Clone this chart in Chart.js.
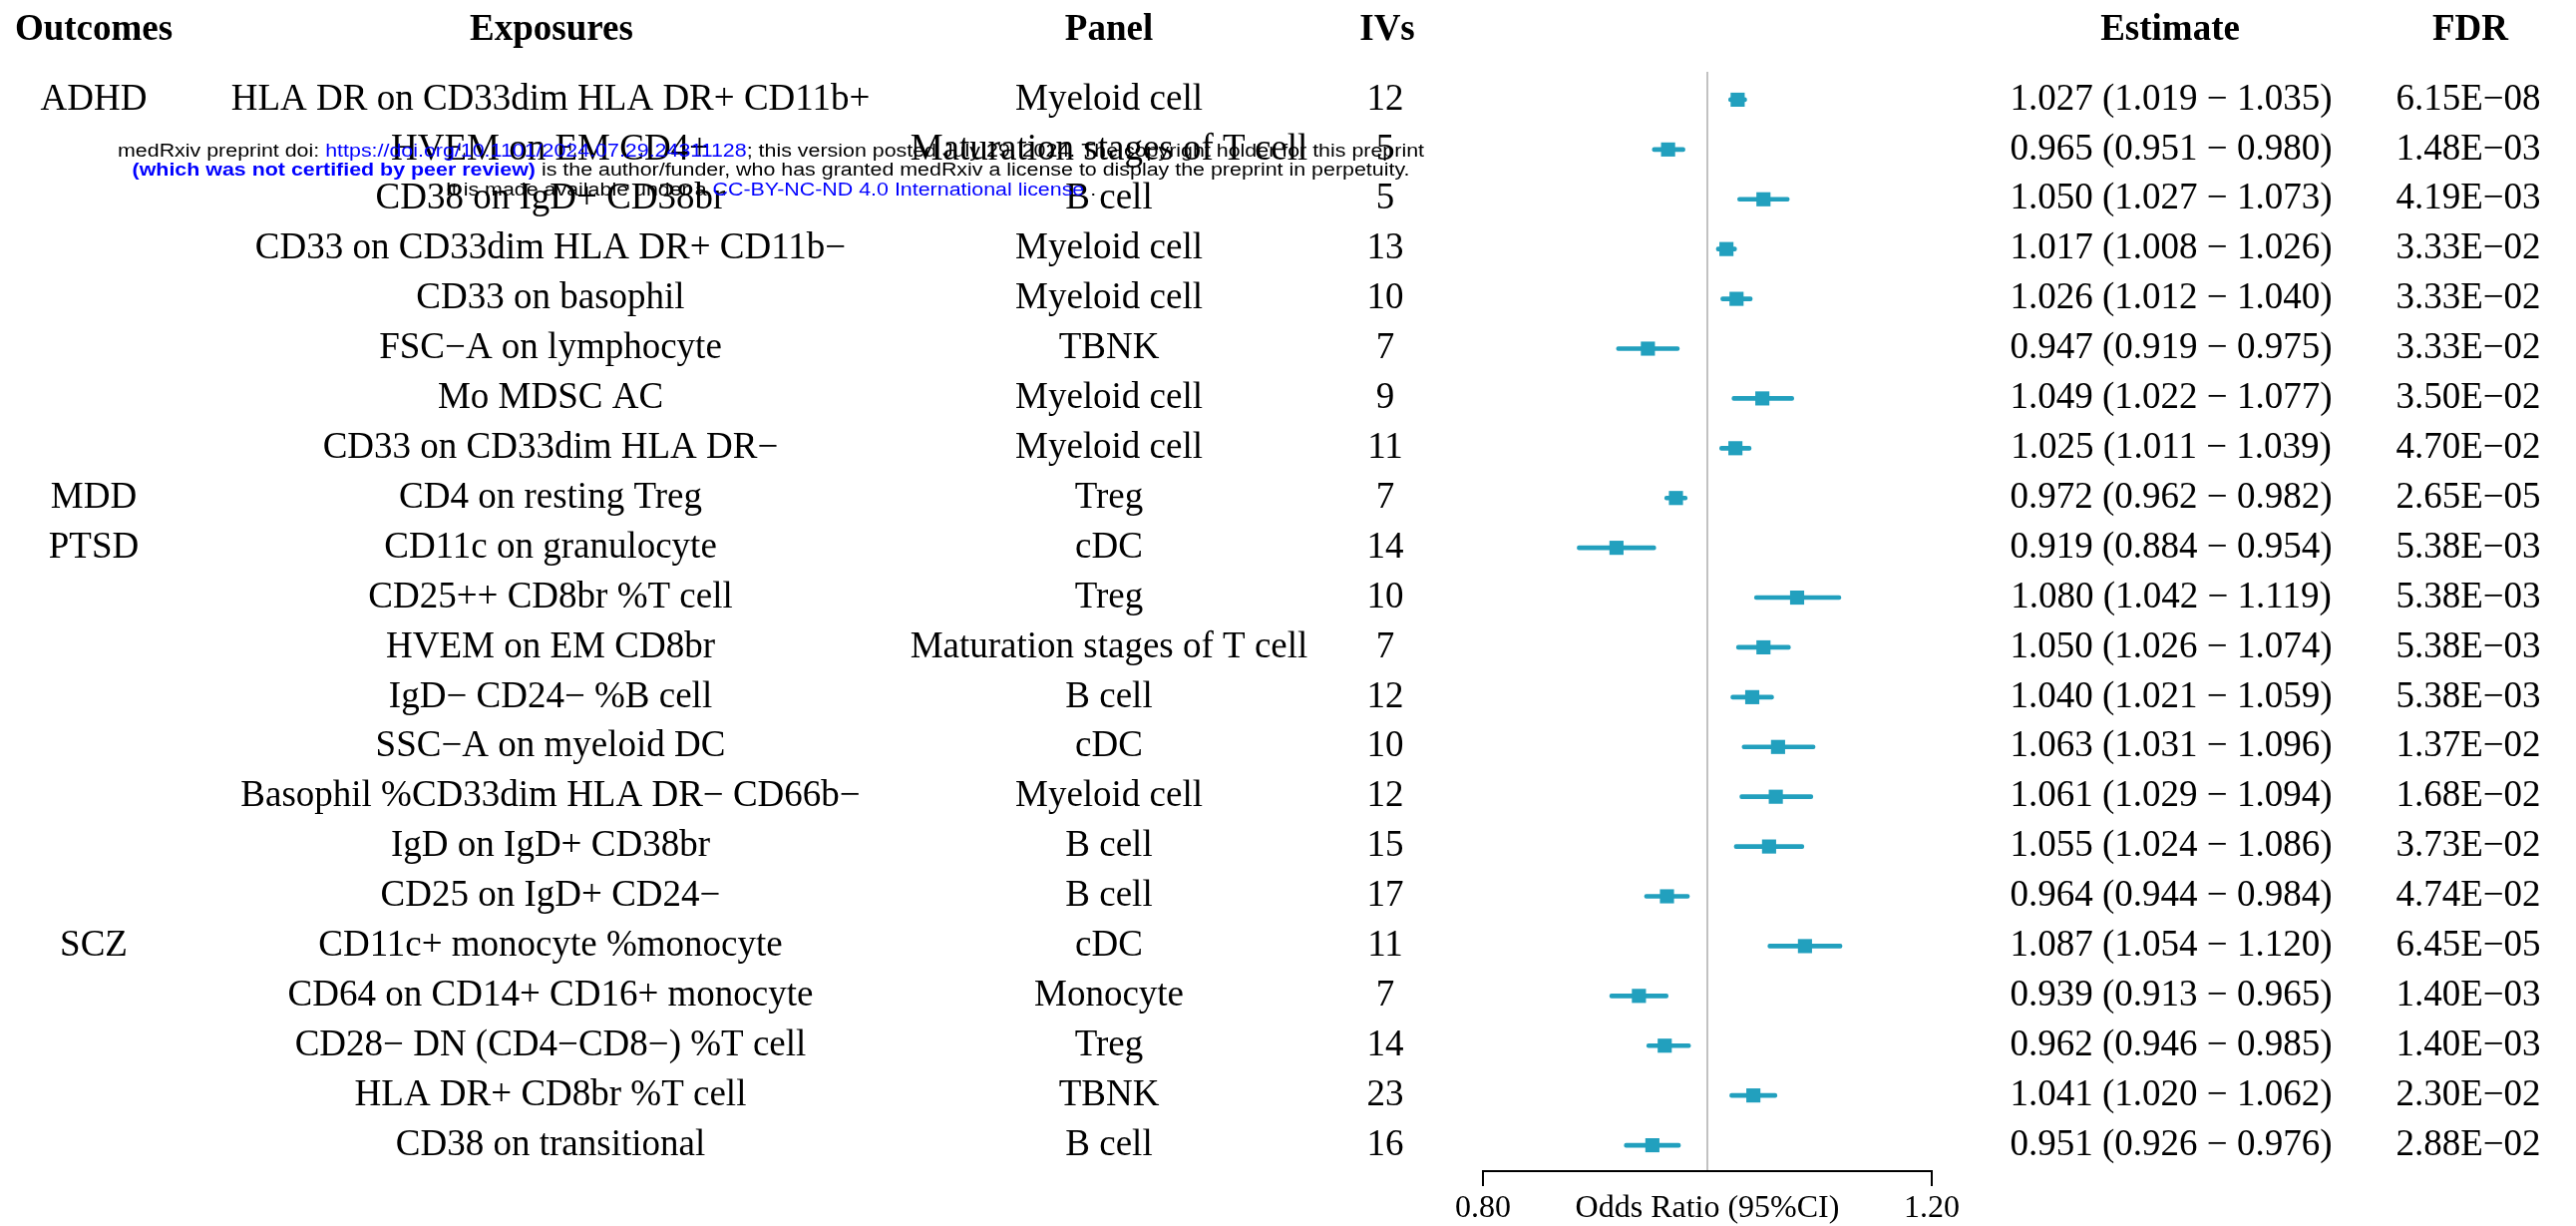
<!DOCTYPE html>
<html>
<head>
<meta charset="utf-8">
<title>Forest plot</title>
<script src="https://cdn.jsdelivr.net/npm/chart.js@4.4.0/dist/chart.umd.min.js"></script>
<style>
  html, body { margin: 0; padding: 0; background: #fff; }
  canvas { display: block; }
</style>
</head>
<body>
<canvas id="forest" width="2583" height="1229"></canvas>
<script>
// rows, top to bottom
const outcomes = ['ADHD', '', '', '', '', '', '', '', 'MDD', 'PTSD', '', '', '', '', '', '', '', 'SCZ', '', '', '', ''];
const exposures = [
  'HLA DR on CD33dim HLA DR+ CD11b+',
  'HVEM on EM CD4+',
  'CD38 on IgD+ CD38br',
  'CD33 on CD33dim HLA DR+ CD11b\u2212',
  'CD33 on basophil',
  'FSC\u2212A on lymphocyte',
  'Mo MDSC AC',
  'CD33 on CD33dim HLA DR\u2212',
  'CD4 on resting Treg',
  'CD11c on granulocyte',
  'CD25++ CD8br %T cell',
  'HVEM on EM CD8br',
  'IgD\u2212 CD24\u2212 %B cell',
  'SSC\u2212A on myeloid DC',
  'Basophil %CD33dim HLA DR\u2212 CD66b\u2212',
  'IgD on IgD+ CD38br',
  'CD25 on IgD+ CD24\u2212',
  'CD11c+ monocyte %monocyte',
  'CD64 on CD14+ CD16+ monocyte',
  'CD28\u2212 DN (CD4\u2212CD8\u2212) %T cell',
  'HLA DR+ CD8br %T cell',
  'CD38 on transitional'
];
const panels = [
  'Myeloid cell', 'Maturation stages of T cell', 'B cell', 'Myeloid cell', 'Myeloid cell', 'TBNK',
  'Myeloid cell', 'Myeloid cell', 'Treg', 'cDC', 'Treg', 'Maturation stages of T cell', 'B cell',
  'cDC', 'Myeloid cell', 'B cell', 'B cell', 'cDC', 'Monocyte', 'Treg', 'TBNK', 'B cell'
];
const ivs = [12, 5, 5, 13, 10, 7, 9, 11, 7, 14, 10, 7, 12, 10, 12, 15, 17, 11, 7, 14, 23, 16];
const estimates = [1.027, 0.965, 1.050, 1.017, 1.026, 0.947, 1.049, 1.025, 0.972, 0.919, 1.080,
  1.050, 1.040, 1.063, 1.061, 1.055, 0.964, 1.087, 0.939, 0.962, 1.041, 0.951];
const ciLow = [1.019, 0.951, 1.027, 1.008, 1.012, 0.919, 1.022, 1.011, 0.962, 0.884, 1.042,
  1.026, 1.021, 1.031, 1.029, 1.024, 0.944, 1.054, 0.913, 0.946, 1.020, 0.926];
const ciHigh = [1.035, 0.980, 1.073, 1.026, 1.040, 0.975, 1.077, 1.039, 0.982, 0.954, 1.119,
  1.074, 1.059, 1.096, 1.094, 1.086, 0.984, 1.120, 0.965, 0.985, 1.062, 0.976];
const fdr = ['6.15E\u221208', '1.48E\u221203', '4.19E\u221203', '3.33E\u221202', '3.33E\u221202', '3.33E\u221202',
  '3.50E\u221202', '4.70E\u221202', '2.65E\u221205', '5.38E\u221203', '5.38E\u221203', '5.38E\u221203',
  '5.38E\u221203', '1.37E\u221202', '1.68E\u221202', '3.73E\u221202', '4.74E\u221202', '6.45E\u221205',
  '1.40E\u221203', '1.40E\u221203', '2.30E\u221202', '2.88E\u221202'];

const headers = ['Outcomes', 'Exposures', 'Panel', 'IVs', 'Estimate', 'FDR'];
const xTicks = [0.8, 1.0, 1.2];
const xTickLabels = ['0.80', 'Odds Ratio (95%CI)', '1.20'];

const TEAL = '#22a0be';
const SERIF = '"Liberation Serif", "Times New Roman", serif';

// column centres for the text table
const headerX = [94, 553, 1112, 1391, 2176, 2477];
const colX = { outcome: 94, exposure: 552, panel: 1112, iv: 1389, est: 2177, fdr: 2475 };

function estText(i) {
  return estimates[i].toFixed(3) + ' (' + ciLow[i].toFixed(3) + ' \u2212 ' + ciHigh[i].toFixed(3) + ')';
}

// medRxiv stamp, drawn over everything like in the source pdf
const stamp = [
  [['medRxiv preprint doi: ', '#000', false], ['https://doi.org/10.1101/2024.07.29.24311128', '#0000ff', false],
   ['; this version posted July 29, 2024. The copyright holder for this preprint', '#000', false]],
  [['(which was not certified by peer review)', '#0000ff', true],
   [' is the author/funder, who has granted medRxiv a license to display the preprint in perpetuity.', '#000', false]],
  [['It is made available under a ', '#000', false], ['CC-BY-NC-ND 4.0 International license', '#0000ff', false], [' .', '#000', false]]
];

const tablePlugin = {
  id: 'forestTable',
  afterDraw(chart) {
    const c = chart.ctx;
    const ys = chart.scales.y;
    c.save();
    c.fillStyle = '#000';
    c.textAlign = 'center';
    c.textBaseline = 'middle';

    c.font = 'bold 37px ' + SERIF;
    headers.forEach((h, k) => c.fillText(h, headerX[k], 30));

    c.font = '37px ' + SERIF;
    estimates.forEach((e, i) => {
      const py = ys.getPixelForValue(i);
      if (outcomes[i]) c.fillText(outcomes[i], colX.outcome, py);
      c.fillText(exposures[i], colX.exposure, py);
      c.fillText(panels[i], colX.panel, py);
      c.fillText(String(ivs[i]), colX.iv, py);
      c.fillText(estText(i), colX.est, py);
      c.fillText(fdr[i], colX.fdr, py);
    });

    // stamp
    const fontOf = b => (b ? 'bold ' : '') + '18px "Liberation Sans", Arial, sans-serif';
    const widthOf = line => line.reduce((w, s) => { c.font = fontOf(s[2]); return w + c.measureText(s[0]).width; }, 0);
    const sx = 1310 / widthOf(stamp[0]);
    const lineY = [152, 171, 191];
    c.textAlign = 'left';
    stamp.forEach((line, k) => {
      const w = widthOf(line);
      c.save();
      c.translate(773, lineY[k]);
      c.scale(sx, 1);
      let x = -w / 2;
      line.forEach(s => {
        c.font = fontOf(s[2]);
        c.fillStyle = s[1];
        c.fillText(s[0], x, 0);
        x += c.measureText(s[0]).width;
      });
      c.restore();
    });
    c.restore();
  }
};

const rows = estimates.map((_, i) => i);

new Chart(document.getElementById('forest').getContext('2d'), {
  type: 'scatter',
  data: {
    datasets: [
      {
        type: 'bar',
        indexAxis: 'y',
        data: rows.map(i => ({ x: [ciLow[i], ciHigh[i]], y: i })),
        backgroundColor: TEAL,
        barThickness: 4,
        borderRadius: 2,
        borderSkipped: false,
        order: 2
      },
      {
        type: 'scatter',
        data: rows.map(i => ({ x: estimates[i], y: i })),
        pointStyle: 'rect',
        pointRadius: 10,
        pointHoverRadius: 10,
        backgroundColor: TEAL,
        borderWidth: 0,
        order: 1
      }
    ]
  },
  options: {
    responsive: false,
    animation: false,
    layout: { padding: { left: 1487, right: 646, top: 72, bottom: 0 } },
    plugins: {
      legend: { display: false },
      tooltip: { enabled: false }
    },
    scales: {
      x: {
        type: 'linear',
        min: 0.8,
        max: 1.2,
        afterBuildTicks: s => { s.ticks = xTicks.map(v => ({ value: v })); },
        afterFit: s => { s.height = 55; },
        border: { color: '#000', width: 2 },
        grid: {
          color: c => (c.tick && c.tick.value === 1 ? '#c2c2c2' : 'rgba(0,0,0,0)'),
          lineWidth: 2,
          tickColor: c => (c.tick && c.tick.value === 1 ? 'rgba(0,0,0,0)' : '#000'),
          tickLength: 15,
          tickWidth: 2
        },
        ticks: {
          font: { family: SERIF, size: 32 },
          color: '#000',
          padding: 3,
          maxRotation: 0,
          autoSkip: false,
          callback: (v, i) => xTickLabels[i]
        }
      },
      y: {
        type: 'linear',
        min: -0.56,
        max: 21.52,
        reverse: true,
        offset: false,
        display: false
      }
    }
  },
  plugins: [tablePlugin]
});
</script>
</body>
</html>
